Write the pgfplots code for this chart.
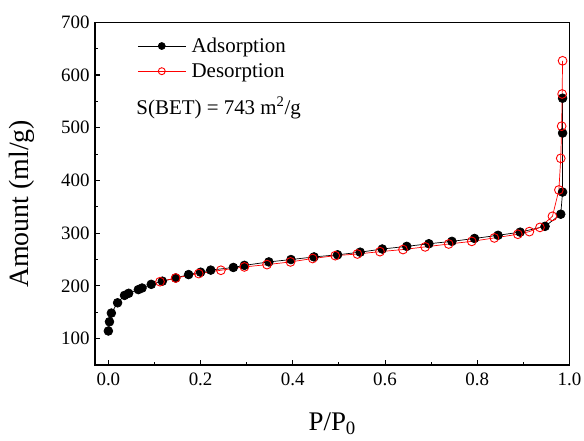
\documentclass[border=0pt]{standalone}
\usepackage{fontspec}
\setmainfont{Liberation Serif}
\usepackage{pgfplots}
\pgfplotsset{compat=1.18}
\begin{document}
\begin{tikzpicture}
\begin{axis}[
  scale only axis,
  width=474.5bp, height=342.7bp,
  xmin=-0.029, xmax=1.0,
  ymin=50, ymax=700,
  xtick={0,0.2,0.4,0.6,0.8,1.0},
  ytick={100,200,300,400,500,600,700},
  minor x tick num=1, minor y tick num=1,
  xtick pos=left, ytick pos=left,
  tick align=inside,
  major tick length=5bp, minor tick length=3bp,
  every tick/.style={line width=1.1pt, black},
  axis line style={line width=1.5pt},
  /pgf/number format/assume math mode=true,
  xticklabel={\pgfmathprintnumber[fixed,fixed zerofill,precision=1]{\tick}},
  yticklabel={\pgfmathprintnumber[fixed,precision=0]{\tick}},
  ticklabel style={font=\fontsize{19}{22}\selectfont},
  xticklabel style={yshift=-4bp},
  yticklabel style={xshift=-2bp},
  xlabel={P/P\textsubscript{0}},
  ylabel={Amount (ml/g)},
  xlabel style={font=\fontsize{27}{30}\selectfont, at={(axis description cs:0.5,-0.192)}, anchor=base},
  ylabel style={font=\fontsize{28}{30}\selectfont, at={(axis description cs:-0.154,0.47)}, anchor=center},
  legend style={draw=none, fill=none, at={(axis description cs:0.089,0.962)}, anchor=north west,
    font=\fontsize{21}{24}\selectfont, row sep=4.5bp, column sep=3bp, inner sep=0pt,
    nodes={inner sep=2.5bp}},
  legend cell align=left,
  legend image code/.code={\draw[mark repeat=2,mark phase=2,#1,mark size=3.5pt] plot coordinates {(0bp,0bp) (24bp,0bp) (48bp,0bp)};},
]
\addplot[black, line width=0.7pt, mark=*, mark size=4.4pt, mark options={fill=black, draw=black}] coordinates {
(0.000,114.5) (0.0024,132) (0.0065,148.5) (0.020,168) (0.035,182) (0.044,186)
(0.065,193) (0.073,196) (0.093,203) (0.117,209) (0.146,215) (0.174,221.5)
(0.200,226) (0.222,230) (0.271,235) (0.295,239) (0.348,245.5) (0.396,250)
(0.446,255) (0.497,259) (0.546,264) (0.594,270) (0.647,275) (0.695,280)
(0.745,284.5) (0.794,290) (0.845,296) (0.893,302) (0.947,313) (0.981,336)
(0.985,378) (0.985,490) (0.985,556)
};
\addlegendentry{Adsorption}
\addplot[red, line width=0.7pt, mark=o, mark size=4.4pt, mark options={fill=white, draw=red, line width=0.9pt}] coordinates {
(0.985,627) (0.984,564) (0.983,503) (0.981,442) (0.977,382) (0.963,332)
(0.936,311) (0.913,303) (0.888,298) (0.837,291) (0.788,284.5) (0.738,279.5)
(0.687,274) (0.639,269) (0.589,265) (0.540,260.5) (0.492,257.4) (0.443,252)
(0.395,245.5) (0.344,240.4) (0.295,236) (0.244,229.7) (0.196,223.4) (0.146,215)
(0.112,208)
};
\addlegendentry{Desorption}
\node[anchor=base west, font=\fontsize{21}{24}\selectfont] at (axis description cs:0.080,0.7324) {S(BET) = 743 m\textsuperscript{2}/g};
\end{axis}
\pgfresetboundingbox
\path (current axis.south west) ++(-95bp,-76bp) coordinate (bl);
\path (current axis.north east) ++(14.5bp,22.3bp) coordinate (tr);
\path[use as bounding box] (bl) rectangle (tr);
\end{tikzpicture}
\end{document}
